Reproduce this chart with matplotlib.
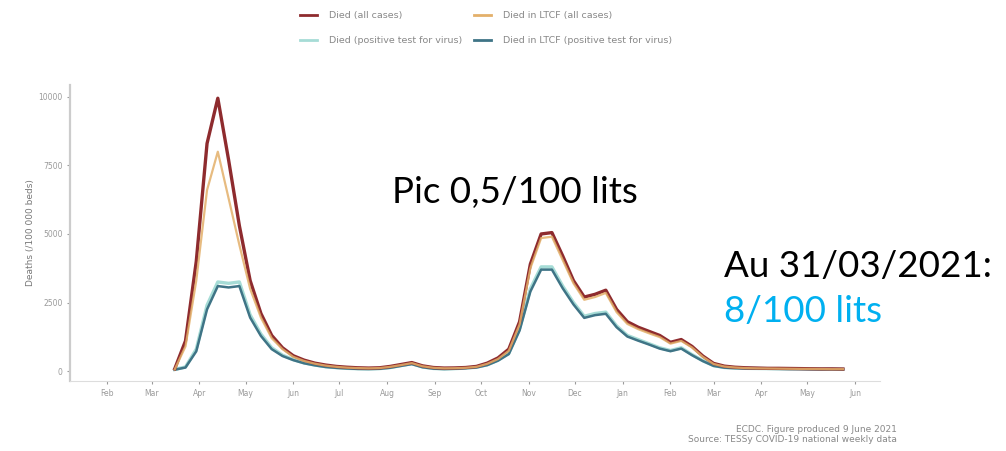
import numpy as np
import pandas as pd
import matplotlib
matplotlib.use("Agg")
import matplotlib.pyplot as plt
import matplotlib.dates as mdates
from matplotlib.lines import Line2D

# weekly deaths, week starting Monday
weeks = pd.date_range("2020-03-16", periods=63, freq="7D")

died_all = [80, 1100, 4000, 8300, 9950, 7700, 5300, 3300, 2100, 1300,
            850, 560, 400, 290, 220, 170, 140, 120, 110, 120,
            170, 240, 310, 190, 130, 110, 115, 130, 170, 290,
            480, 800, 1800, 3900, 5000, 5050, 4200, 3300, 2700, 2800,
            2950, 2250, 1800, 1600, 1450, 1300, 1050, 1150, 900, 550,
            280, 180, 140, 120, 110, 100, 100, 95, 90, 85,
            80, 80, 75]

died_ltcf_all = [60, 900, 3300, 6600, 8000, 6300, 4600, 3000, 1950, 1200,
                 800, 520, 370, 270, 200, 155, 125, 110, 100, 110,
                 155, 220, 290, 175, 120, 100, 105, 120, 155, 265,
                 440, 740, 1700, 3750, 4850, 4900, 4050, 3200, 2600, 2700,
                 2850, 2150, 1720, 1530, 1380, 1240, 1000, 1100, 860, 520,
                 260, 165, 130, 110, 100, 95, 90, 85, 80, 80,
                 75, 70, 70]

died_pos = [60, 150, 800, 2400, 3250, 3200, 3250, 2050, 1350, 850,
            580, 420, 300, 220, 160, 125, 100, 85, 80, 90,
            130, 200, 270, 150, 95, 80, 90, 110, 140, 230,
            400, 650, 1550, 3000, 3800, 3800, 3100, 2500, 2000, 2100,
            2150, 1650, 1300, 1150, 1000, 850, 750, 850, 600, 380,
            200, 130, 110, 100, 95, 90, 85, 80, 80, 75,
            70, 70, 65]

died_ltcf_pos = [50, 130, 720, 2250, 3100, 3050, 3100, 1950, 1280, 800,
                 550, 400, 285, 210, 150, 118, 95, 80, 75, 85,
                 122, 190, 255, 140, 90, 75, 85, 105, 132, 218,
                 380, 620, 1480, 2900, 3700, 3700, 3020, 2430, 1940, 2040,
                 2090, 1600, 1260, 1110, 970, 820, 725, 820, 580, 365,
                 190, 125, 105, 95, 90, 85, 80, 76, 75, 70,
                 66, 65, 60]

series_labels = ["Died (all cases)", "Died in LTCF (all cases)",
                 "Died (positive test for virus)", "Died in LTCF (positive test for virus)"]
series_colors = ["#8e2b2e", "#e3b06a", "#a6dcd6", "#3f7486"]

yticks = [0, 2500, 5000, 7500, 10000]

fig = plt.figure(figsize=(10.06, 4.51), dpi=100)
ax = fig.add_axes([0.0696, 0.155, 0.805, 0.657])

ax.plot(weeks, died_pos, color=series_colors[2], lw=2.4, zorder=2)
ax.plot(weeks, died_ltcf_pos, color=series_colors[3], lw=1.8, zorder=3)
ax.plot(weeks, died_all, color=series_colors[0], lw=2.4, zorder=4)
ax.plot(weeks, died_ltcf_all, color=series_colors[1], lw=1.6, alpha=0.85, zorder=5)

ax.set_xlim(pd.Timestamp("2020-01-08"), pd.Timestamp("2021-06-17"))
ax.set_ylim(-365, 10440)
ax.xaxis.set_major_locator(mdates.MonthLocator())
ax.xaxis.set_major_formatter(mdates.DateFormatter("%b"))
ax.set_yticks(yticks)
ax.tick_params(axis="both", labelsize=5.5, colors="#9a9a9a", length=2, width=0.8)
ax.set_ylabel("Deaths (/100 000 beds)", fontsize=6.5, color="#777777", labelpad=2)

for side in ["top", "right"]:
    ax.spines[side].set_visible(False)
ax.spines["left"].set_color("#cccccc")
ax.spines["left"].set_linewidth(1.6)
ax.spines["bottom"].set_color("#dddddd")
ax.spines["bottom"].set_linewidth(0.8)

# legend laid out row by row: red/orange on top, teal/blue below
order = [0, 2, 1, 3]
handles = [Line2D([], [], color=series_colors[i], lw=2) for i in order]
fig.legend(handles, [series_labels[i] for i in order], ncol=2, loc="upper left",
           bbox_to_anchor=(0.298, 0.975), fontsize=6.8, frameon=False,
           borderaxespad=0, borderpad=0, handlelength=1.8, handletextpad=1.3,
           columnspacing=1.2, labelspacing=1.65, labelcolor="#888888")

fig.text(0.892, 0.048, "ECDC. Figure produced 9 June 2021", ha="right",
         va="center", fontsize=6.5, color="#888888")
fig.text(0.892, 0.025, "Source: TESSy COVID-19 national weekly data", ha="right",
         va="center", fontsize=6.5, color="#888888")

fig.text(0.39, 0.55, "Pic 0,5/100 lits", fontsize=26.5, family="Lato",
         color="black", va="baseline")
fig.text(0.72, 0.386, "Au 31/03/2021:", fontsize=26.5, family="Lato",
         color="black", va="baseline")
fig.text(0.72, 0.286, "8/100 lits", fontsize=26.5, family="Lato",
         color="#00b0f0", va="baseline")

fig.savefig("out.png", dpi=100)
